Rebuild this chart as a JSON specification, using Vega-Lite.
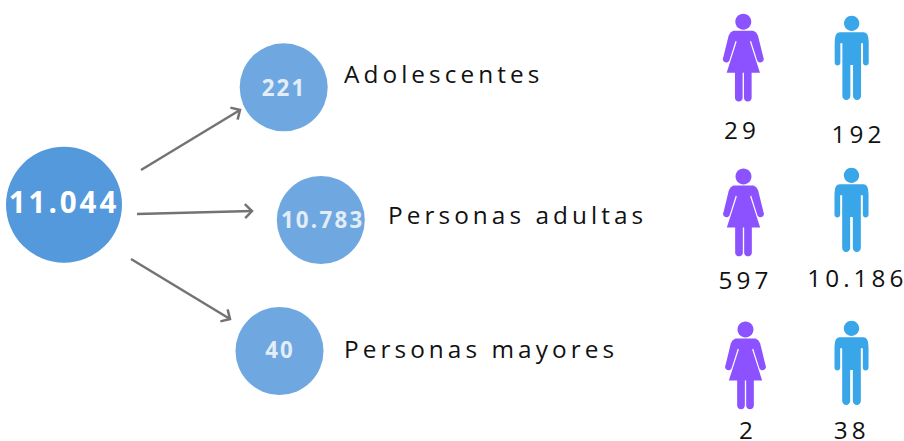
{
"$schema":"https://vega.github.io/schema/vega-lite/v6.json",
"width":904,"height":441,"padding":0,"autosize":{"type":"none"},"background":"white",
"config":{"view":{"stroke":null}},
"datasets":{
"circulos":[{"x":64,"y":204.7,"nivel":"total","valor":"1\u200a1\u200a.\u200a0\u200a4\u200a4","tx":62.5,"ty":213},{"x":283.7,"y":87.3,"nivel":"grupo","valor":"2\u200a2\u200a1","tx":283,"ty":95.5},{"x":320.8,"y":220,"nivel":"grupo","valor":"1\u200a0\u200a.\u200a7\u200a8\u200a3","tx":321.5,"ty":227.5},{"x":279.5,"y":351,"nivel":"grupo","valor":"4\u200a0","tx":279,"ty":358}],
"flechas":[{"x":141,"y":170,"x2":240,"y2":110,"ang":-31},{"x":137,"y":214,"x2":252,"y2":211,"ang":-1.5},{"x":131,"y":259,"x2":230,"y2":319,"ang":31}],
"grupos":[{"x":344,"y":83,"grupo":"A\u2006d\u2006o\u2006l\u2006e\u2006s\u2006c\u2006e\u2006n\u2006t\u2006e\u2006s"},{"x":388,"y":224,"grupo":"P\u2006e\u2006r\u2006s\u2006o\u2006n\u2006a\u2006s\u2006 \u2006a\u2006d\u2006u\u2006l\u2006t\u2006a\u2006s"},{"x":344,"y":358,"grupo":"P\u2006e\u2006r\u2006s\u2006o\u2006n\u2006a\u2006s\u2006 \u2006m\u2006a\u2006y\u2006o\u2006r\u2006e\u2006s"}],
"mujeres":[{"x":743.3,"y":57.7},{"x":743.5,"y":212.5},{"x":745.5,"y":365.5}],
"hombres":[{"x":851.7,"y":58},{"x":851.5,"y":210},{"x":851.5,"y":363}],
"numeros":[{"x":740,"y":138.5,"n":"2\u20069"},{"x":856.5,"y":142.5,"n":"1\u20069\u20062"},{"x":743.5,"y":289,"n":"5\u20069\u20067"},{"x":855.3,"y":287,"n":"1\u20060\u2006.\u20061\u20068\u20066"},{"x":746,"y":439,"n":"2"},{"x":849.7,"y":439,"n":"3\u20068"}]
},
"encoding":{
"x":{"field":"x","type":"quantitative","axis":null,"scale":{"domain":[0,904],"nice":false,"zero":false}},
"y":{"field":"y","type":"quantitative","axis":null,"scale":{"domain":[441,0],"nice":false,"zero":false}}
},
"layer":[
{"data":{"name":"circulos"},"mark":{"type":"point","shape":"circle","filled":true,"opacity":1},
 "encoding":{
 "size":{"field":"nivel","type":"nominal","legend":null,"scale":{"domain":["total","grupo"],"range":[13456,7744]}},
 "color":{"field":"nivel","type":"nominal","legend":null,"scale":{"domain":["total","grupo"],"range":["#5499dc","#6fa8e0"]}}}},
{"data":{"name":"flechas"},"mark":{"type":"rule","color":"#737373","strokeWidth":2.5},
 "encoding":{"x2":{"field":"x2"},"y2":{"field":"y2"}}},
{"data":{"name":"flechas"},"mark":{"type":"point","shape":"M -1 -1 L 0 0 L -1 1","filled":false,"fill":null,"size":196,"stroke":"#737373","strokeWidth":2.5,"opacity":1},
 "encoding":{
 "x":{"field":"x2","type":"quantitative","axis":null,"scale":{"domain":[0,904],"nice":false,"zero":false}},
 "y":{"field":"y2","type":"quantitative","axis":null,"scale":{"domain":[441,0],"nice":false,"zero":false}},
 "angle":{"field":"ang","type":"quantitative","scale":null}}},
{"data":{"name":"circulos"},"transform":[{"filter":"datum.nivel==='total'"}],"mark":{"type":"text","font":"Open Sans","fontWeight":"bold","fontSize":29.5,"align":"center","baseline":"alphabetic","color":"#ffffff"},
 "encoding":{"text":{"field":"valor"},"x":{"field":"tx","type":"quantitative","axis":null,"scale":{"domain":[0,904],"nice":false,"zero":false}},"y":{"field":"ty","type":"quantitative","axis":null,"scale":{"domain":[441,0],"nice":false,"zero":false}}}},
{"data":{"name":"circulos"},"transform":[{"filter":"datum.nivel==='grupo'"}],"mark":{"type":"text","font":"Open Sans","fontWeight":"bold","fontSize":22.3,"align":"center","baseline":"alphabetic","color":"#ffffff","opacity":0.8},
 "encoding":{"text":{"field":"valor"},"x":{"field":"tx","type":"quantitative","axis":null,"scale":{"domain":[0,904],"nice":false,"zero":false}},"y":{"field":"ty","type":"quantitative","axis":null,"scale":{"domain":[441,0],"nice":false,"zero":false}}}},
{"data":{"name":"grupos"},"mark":{"type":"text","font":"Open Sans","fontSize":24.35,"align":"left","baseline":"alphabetic","color":"#111111"},
 "encoding":{"text":{"field":"grupo"}}},
{"data":{"name":"numeros"},"mark":{"type":"text","font":"Open Sans","fontSize":24.3,"align":"center","baseline":"alphabetic","color":"#111111"},
 "encoding":{"text":{"field":"n"}}},
{"data":{"name":"mujeres"},"mark":{"type":"point","filled":true,"opacity":1,"color":"#8c52ff","size":7860,
 "shape":"M -0.18 -0.812 A 0.18 0.18 0 1 1 0.18 -0.812 A 0.18 0.18 0 1 1 -0.18 -0.812 Z M -0.226 -0.609 L 0.226 -0.609 Q 0.3 -0.58 0.33 -0.5 L 0.451 -0.008 A 0.075 0.075 0 0 1 0.316 0.068 L 0.173 -0.383 L 0.15 -0.361 L 0.376 0.338 L 0.188 0.338 L 0.188 0.902 A 0.0865 0.0865 0 0 1 0.015 0.902 L 0.015 0.338 L -0.015 0.338 L -0.015 0.902 A 0.0865 0.0865 0 0 1 -0.188 0.902 L -0.188 0.338 L -0.376 0.338 L -0.15 -0.361 L -0.173 -0.383 L -0.316 0.068 A 0.075 0.075 0 0 1 -0.451 -0.008 L -0.33 -0.5 Q -0.3 -0.58 -0.226 -0.609 Z"}},
{"data":{"name":"hombres"},"mark":{"type":"point","filled":true,"opacity":1,"color":"#38a6e8","size":7056,
 "shape":"M -0.183 -0.825 A 0.183 0.183 0 1 1 0.183 -0.825 A 0.183 0.183 0 1 1 -0.183 -0.825 Z M -0.278 -0.611 L 0.278 -0.611 Q 0.405 -0.611 0.405 -0.389 L 0.405 0.111 A 0.0675 0.0675 0 0 1 0.27 0.111 L 0.27 -0.349 L 0.222 -0.349 L 0.222 0.905 A 0.095 0.095 0 0 1 0.032 0.905 L 0.032 0.167 L -0.032 0.167 L -0.032 0.905 A 0.095 0.095 0 0 1 -0.222 0.905 L -0.222 -0.349 L -0.27 -0.349 L -0.27 0.111 A 0.0675 0.0675 0 0 1 -0.405 0.111 L -0.405 -0.389 Q -0.405 -0.611 -0.278 -0.611 Z"}}
]
}
